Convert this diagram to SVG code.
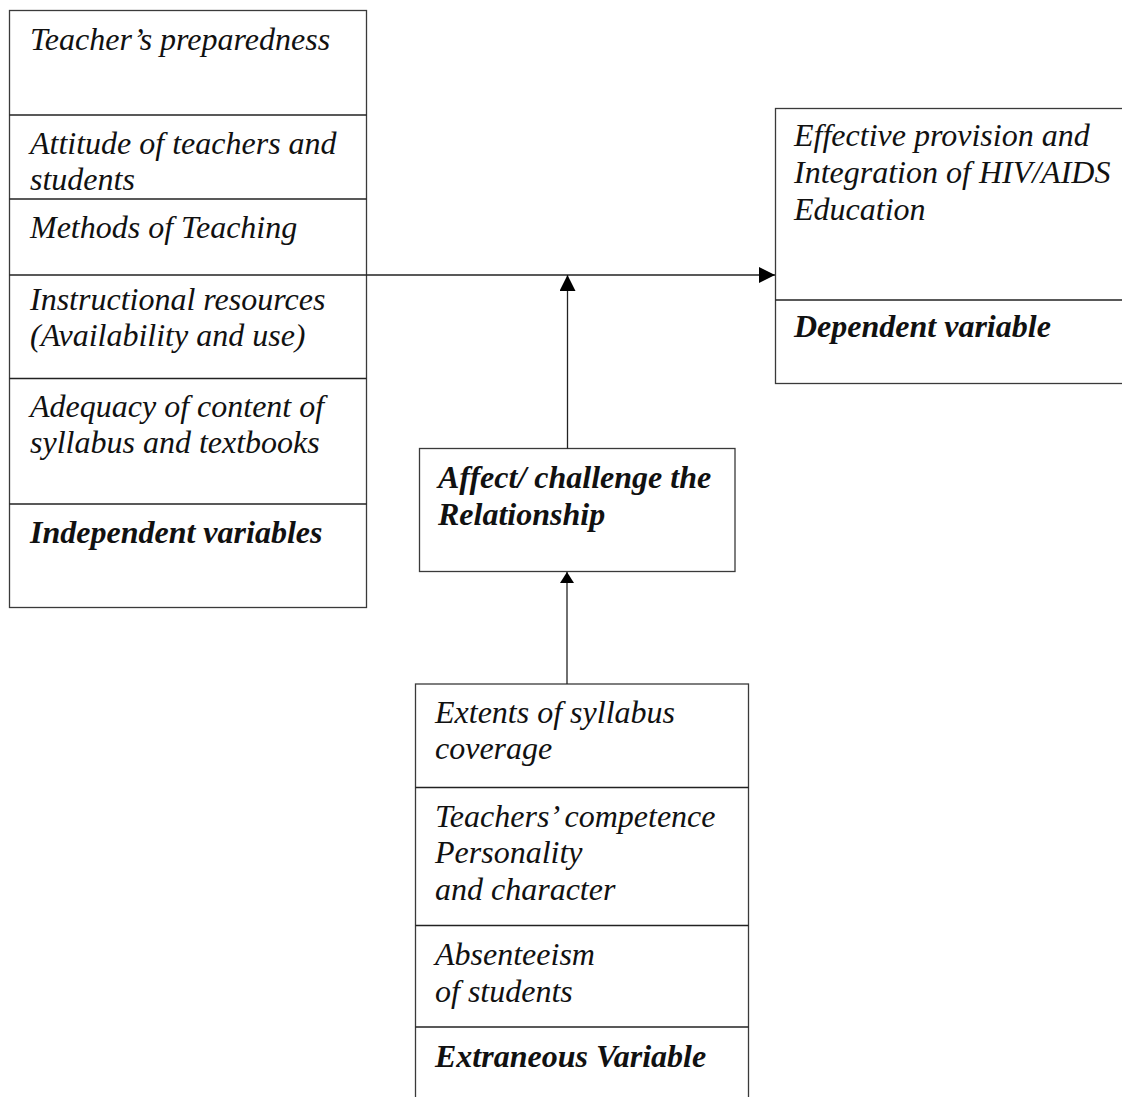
<svg xmlns="http://www.w3.org/2000/svg" width="1122" height="1097" viewBox="0 0 1122 1097">
<style>
.box{fill:#fff;stroke:#3a3a3a;stroke-width:1.3}
.div{stroke:#222;stroke-width:1.3}
text{font-family:"Liberation Serif","Times New Roman",serif;font-size:32px;font-style:italic;fill:#111}
.b{font-weight:bold}
.conn{stroke:#222;stroke-width:1.3;fill:none}
</style>
<defs>
<marker id="ah" viewBox="0 0 16 16" refX="16" refY="8" markerWidth="16" markerHeight="16" markerUnits="userSpaceOnUse" orient="auto"><path d="M0,0 L16,8 L0,16 Z" fill="#000"/></marker>
<marker id="ah2" viewBox="0 0 11 14" refX="11" refY="7" markerWidth="11" markerHeight="14" markerUnits="userSpaceOnUse" orient="auto"><path d="M0,0 L11,7 L0,14 Z" fill="#000"/></marker>
</defs>
<g id="independent">
<rect class="box" x="9.5" y="10.5" width="357" height="597"/>
<line class="div" x1="9.5" y1="115" x2="366.5" y2="115"/>
<line class="div" x1="9.5" y1="199" x2="366.5" y2="199"/>
<line class="div" x1="9.5" y1="275" x2="366.5" y2="275"/>
<line class="div" x1="9.5" y1="378.5" x2="366.5" y2="378.5"/>
<line class="div" x1="9.5" y1="504" x2="366.5" y2="504"/>
<text x="30" y="50">Teacher’s preparedness</text>
<text x="30" y="154">Attitude of teachers and</text>
<text x="30" y="190">students</text>
<text x="30" y="238">Methods of Teaching</text>
<text x="30" y="310">Instructional resources</text>
<text x="30" y="346">(Availability and use)</text>
<text x="30" y="417">Adequacy of content of</text>
<text x="30" y="453">syllabus and textbooks</text>
<text class="b" x="30" y="543">Independent variables</text>
</g>
<g id="dependent">
<rect class="box" x="775.5" y="108.5" width="360" height="275"/>
<line class="div" x1="775.5" y1="300" x2="1122" y2="300"/>
<text x="794" y="146">Effective provision and</text>
<text x="794" y="183">Integration of HIV/AIDS</text>
<text x="794" y="220">Education</text>
<text class="b" x="794" y="337">Dependent variable</text>
</g>
<g id="moderator">
<rect class="box" x="419.5" y="448.5" width="315.5" height="123"/>
<text class="b" x="438" y="488">Affect/ challenge the</text>
<text class="b" x="438" y="525">Relationship</text>
</g>
<g id="extraneous">
<rect class="box" x="415.5" y="684" width="333" height="430"/>
<line class="div" x1="415.5" y1="787.5" x2="748.5" y2="787.5"/>
<line class="div" x1="415.5" y1="925.5" x2="748.5" y2="925.5"/>
<line class="div" x1="415.5" y1="1027" x2="748.5" y2="1027"/>
<text x="435" y="723">Extents of syllabus</text>
<text x="435" y="759">coverage</text>
<text x="435" y="827">Teachers’ competence</text>
<text x="435" y="863">Personality</text>
<text x="435" y="900">and character</text>
<text x="435" y="965">Absenteeism</text>
<text x="435" y="1002">of students</text>
<text class="b" x="435" y="1067">Extraneous Variable</text>
</g>
<g id="connectors">
<line class="conn" x1="366.5" y1="275" x2="775" y2="275" marker-end="url(#ah)"/>
<line class="conn" x1="567.5" y1="448.5" x2="567.5" y2="275" marker-end="url(#ah)"/>
<line class="conn" x1="567" y1="684" x2="567" y2="572" marker-end="url(#ah2)"/>
</g>
</svg>
